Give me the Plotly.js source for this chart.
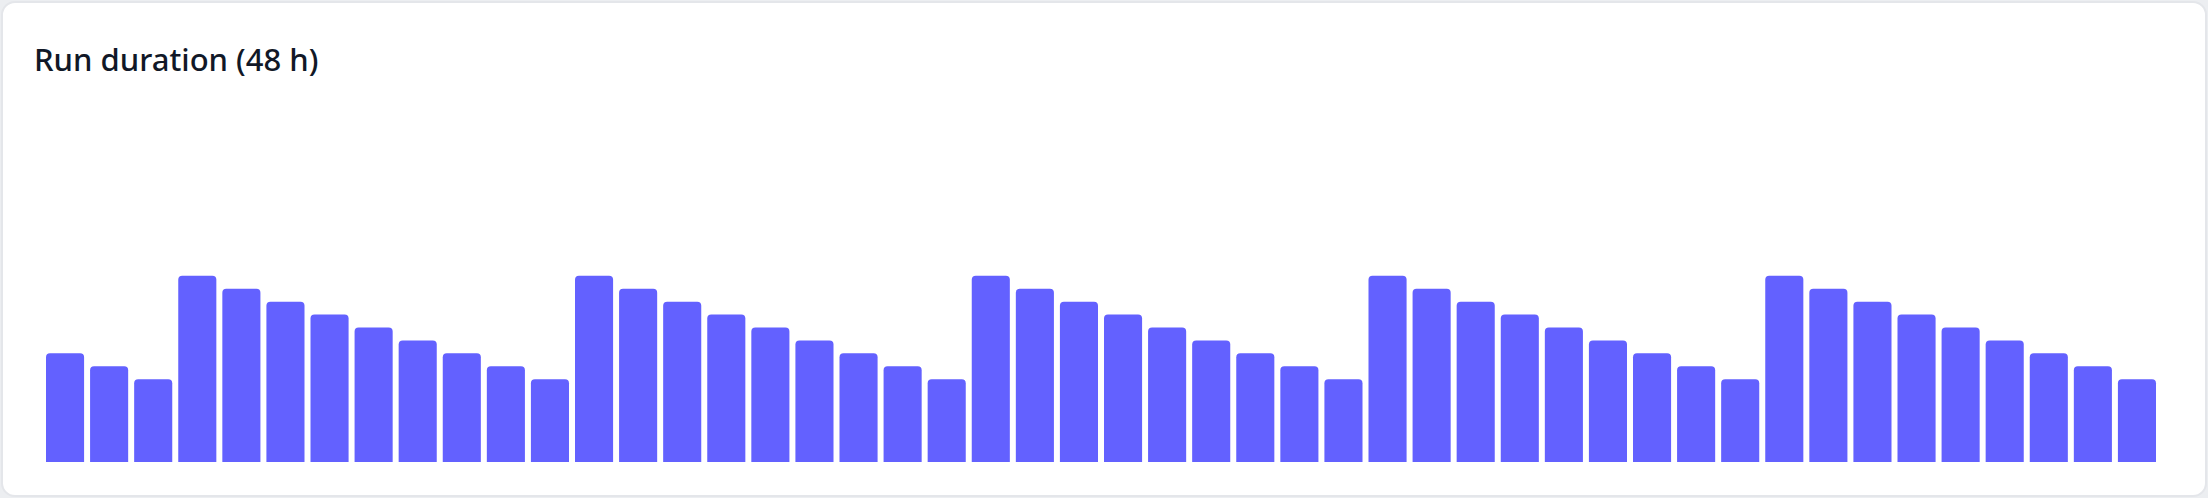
<!DOCTYPE html>
<html>
<head>
<meta charset="utf-8">
<script src="https://cdn.plot.ly/plotly-3.0.1.min.js"></script>
<style>
  html, body { margin: 0; padding: 0; background: #eceef1; }
  #card {
    position: absolute; left: 1px; top: 1px; width: 2202px; height: 492px;
    background: #ffffff; border: 2px solid #e4e6ea; border-radius: 14px;
  }
  #myPlot { position: absolute; left: 0; top: 0; width: 2208px; height: 498px; }
</style>
</head>
<body>
<div id="card"></div>
<div id="myPlot"></div>
<script>
// 48 hourly runs, duration in minutes
var hours = [];
for (var i = 0; i < 48; i++) hours.push('h' + i);

var durations = [42, 37, 32,
  72, 67, 62, 57, 52, 47, 42, 37, 32,
  72, 67, 62, 57, 52, 47, 42, 37, 32,
  72, 67, 62, 57, 52, 47, 42, 37, 32,
  72, 67, 62, 57, 52, 47, 42, 37, 32,
  72, 67, 62, 57, 52, 47, 42, 37, 32];

var trace = {
  x: hours,
  y: durations,
  type: 'bar',
  marker: { color: '#6361ff', line: { width: 0 } },
  hoverinfo: 'none'
};

var layout = {
  width: 2208,
  height: 498,
  paper_bgcolor: 'rgba(0,0,0,0)',
  plot_bgcolor: 'rgba(0,0,0,0)',
  showlegend: false,
  bargap: 0.136,
  barcornerradius: 4,
  margin: { l: 43, r: 49, t: 74, b: 36 },
  title: {
    text: 'Run duration (48 h)',
    font: { family: 'Noto Sans', size: 31, weight: 500, color: '#111827' },
    xref: 'container',
    yref: 'container',
    x: 34 / 2208,
    xanchor: 'left',
    y: 1 - 60 / 498,
    yanchor: 'middle'
  },
  xaxis: {
    type: 'category',
    showgrid: false,
    zeroline: false,
    showticklabels: false,
    showline: false,
    ticks: ''
  },
  yaxis: {
    range: [0, 150],
    showgrid: false,
    zeroline: false,
    showticklabels: false,
    showline: false,
    ticks: ''
  }
};

Plotly.newPlot('myPlot', [trace], layout, { displayModeBar: false, staticPlot: true });
</script>
</body>
</html>
